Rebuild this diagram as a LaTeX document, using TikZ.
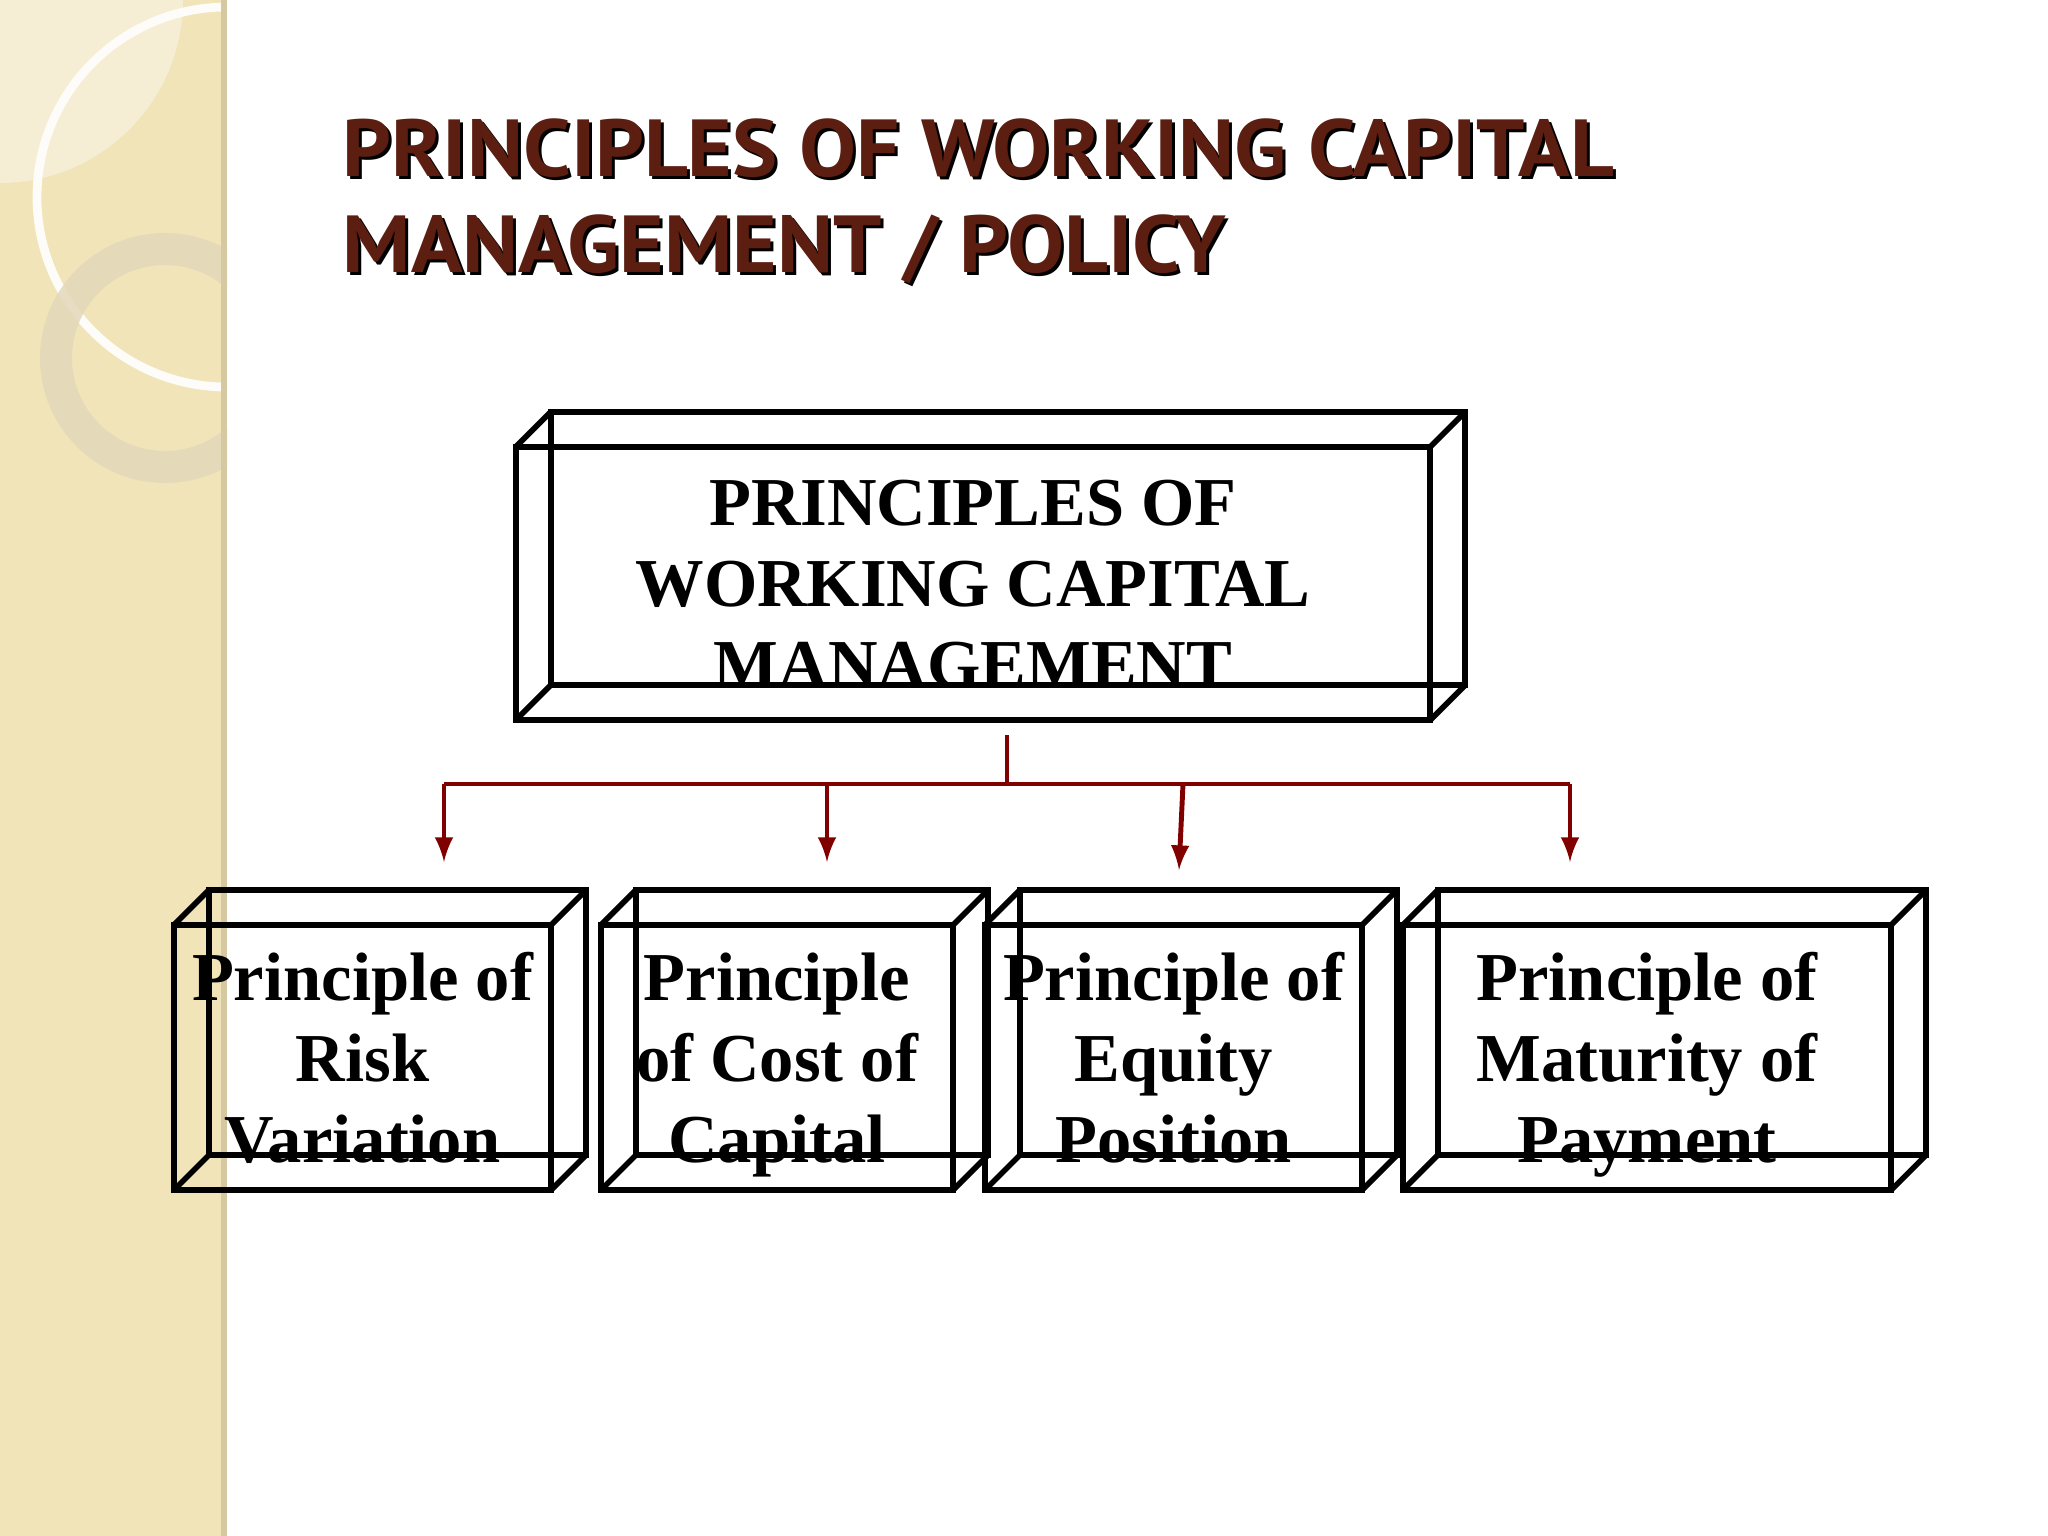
\documentclass[tikz,border=0pt]{standalone}
\usepackage{fontspec}
\setmainfont{Liberation Serif}
\newfontfamily\titlefont{PT Sans}
\usepackage{tikz}
\usepackage{xcolor}
\usetikzlibrary{arrows}
\usetikzlibrary{positioning}
\definecolor{titlebrown}{RGB}{92,30,16}
\definecolor{arrowred}{RGB}{128,0,0}
\definecolor{stripbase}{RGB}{240,228,184}
\definecolor{stripshade}{RGB}{245,237,212}
\definecolor{stripedge}{RGB}{214,200,160}
\definecolor{ringtone}{RGB}{226,216,186}

\begin{document}
\begin{tikzpicture}[x=0.01cm,y=-0.01cm,
frontbox/.style={draw,line width=1.6pt,inner sep=0pt,outer sep=0pt,align=center,
 text depth=0pt,font=\bfseries\fontsize{19.5}{23}\selectfont},
edge/.style={line width=1.6pt},
link/.style={draw=arrowred,line width=1.4pt},
headline/.style={anchor=base west,inner sep=0pt,xscale=1.055,transform shape,
 font=\titlefont\bfseries\fontsize{23}{28}\selectfont}]
 \useasboundingbox (0,0) rectangle (2048,1536);
 \fill[white] (0,0) rectangle (2048,1536);
 \begin{scope}
 \clip (0,0) rectangle (227,1536);
 \fill[stripbase] (0,0) rectangle (227,1536);
 \fill[stripshade] (0,0) -- (183,0) arc (0:90:183) -- cycle;
 \draw[white!90!stripbase,line width=2.5pt] (227,197) circle (190);
 \fill[ringtone,opacity=0.85,even odd rule] (165,358) circle (125) (165,358) circle (93);
 \fill[stripedge] (221,0) rectangle (227,1536);
 \end{scope}
 \node[headline,text=black] (shadow1) at (345,179) {PRINCIPLES OF WORKING CAPITAL};
 \node[headline,text=titlebrown] (title1) at (342,176) {PRINCIPLES OF WORKING CAPITAL};
 \node[headline,text=black] (shadow2) at (345,275) {MANAGEMENT / POLICY};
 \node[headline,text=titlebrown] (title2) at (342,272) {MANAGEMENT / POLICY};
 \node[frontbox,minimum width=9.14cm,minimum height=2.73cm] (top) at (973,583.5)
 {PRINCIPLES OF\\WORKING CAPITAL\\MANAGEMENT};
 \node[frontbox,minimum width=3.77cm,minimum height=2.65cm] (risk) at (362.5,1057.5)
 {Principle of\\Risk\\Variation};
 \node[frontbox,minimum width=3.52cm,minimum height=2.65cm] (cost) at (777,1057.5)
 {Principle\\of Cost of\\Capital};
 \node[frontbox,minimum width=3.77cm,minimum height=2.65cm] (equity) at (1173.5,1057.5)
 {Principle of\\Equity\\Position};
 \node[frontbox,minimum width=4.88cm,minimum height=2.65cm] (maturity) at (1647,1057.5)
 {Principle of\\Maturity of\\Payment};
 \foreach \b in {top,risk,cost,equity,maturity}
    {\draw[edge] ([shift={(35,-35)}]\b.south west) rectangle ([shift={(35,-35)}]\b.north east);
    \foreach \c in {north west,north east,south west,south east}
    \draw[edge] (\b.\c) -- ([shift={(35,-35)}]\b.\c);}
 \coordinate (stem) at (1007,735);
 \coordinate (hub) at (1007,784);
 \foreach \n/\xa/\xb/\yb in {1/444/444/862,2/827/827/862,3/1183/1179/870,4/1570/1570/862}
    {\coordinate (fork\n) at (\xa,784);
    \coordinate (tip\n) at (\xb,\yb);}
 \draw[link] (stem) -- (hub);
 \draw[link] (fork1) -- (fork4);
 \foreach \n in {1,...,4}
    \draw[link,-latex] (fork\n) -- (tip\n);
\end{tikzpicture}
\end{document}
